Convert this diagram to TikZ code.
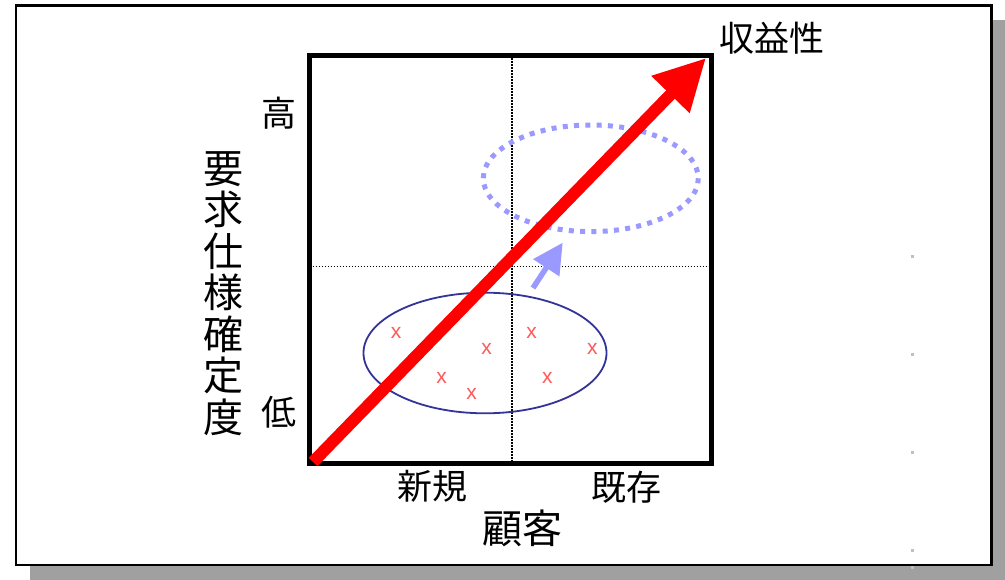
\documentclass[tikz,border=0pt]{standalone}
\usepackage{fontspec}
\setmainfont{Noto Sans CJK JP}
\newfontfamily\xfont{Liberation Sans}
\usetikzlibrary{arrows.meta}
\definecolor{shadowgray}{HTML}{A0A0A0}
\definecolor{navyline}{HTML}{333399}
\definecolor{lightblue}{HTML}{9999FF}
\definecolor{markred}{HTML}{FF5A5A}
\definecolor{dotgray}{HTML}{C0C0C0}
\begin{document}
\begin{tikzpicture}[x=1pt,y=-1pt,
  lbl/.style={inner sep=0pt, font=\fontsize{35}{35}\selectfont},
  xmark/.style={inner sep=0pt, text=markred, font=\xfont\fontsize{21}{21}\selectfont},
  gdot/.style={fill=dotgray, minimum size=3pt, inner sep=0pt},
  quad/.style={dash pattern=on 1.2pt off 1.8pt, line width=1.2pt}]
\useasboundingbox (0,0) rectangle (1005,580);
\fill[shadowgray] (30,20) rectangle (1005,580);
\draw[line width=2.7pt, fill=white] (16,5.5) rectangle (991.5,565);
% small gray marks at right
\node[gdot] (g1) at (912.3,256.3) {};
\node[gdot] (g2) at (912.3,354.3) {};
\node[gdot] (g3) at (912.3,452.3) {};
\node[gdot] (g4) at (912.3,550.3) {};
\node[gdot] (g5) at (912.3,567.5) {};
% quadrant lines
\coordinate (vt) at (512,55.5);
\coordinate (vb) at (512,463.5);
\coordinate (hl) at (309.5,266.5);
\coordinate (hr) at (711,266.5);
\draw[quad] (vt) -- (vb);
\draw[quad] (hl) -- (hr);
% main box
\node[draw, line width=5pt, minimum width=401.5pt, minimum height=408pt, inner sep=0pt] (box) at (510.25,259.5) {};
% ellipses
\draw[navyline, line width=1.8pt] (485,353) ellipse [x radius=121.5, y radius=60.3];
\draw[lightblue, line width=5pt, dash pattern=on 5pt off 6.3pt] (590.8,178.3) ellipse [x radius=107.5, y radius=53.3];
% x marks
\node[xmark] (m1) at (396,333) {x};
\node[xmark] (m2) at (486.7,348.5) {x};
\node[xmark] (m3) at (531.7,333) {x};
\node[xmark] (m4) at (592.3,348.5) {x};
\node[xmark] (m5) at (441.7,378) {x};
\node[xmark] (m6) at (547.3,378) {x};
\node[xmark] (m7) at (471.7,394) {x};
% blue arrow
\coordinate (bs) at (533,288);
\coordinate (bt) at (562.7,242.7);
\draw[lightblue, line width=5.5pt, -{Triangle[length=30pt,width=30pt]}] (bs) -- (bt);
% red arrow
\coordinate (rs) at (313,462);
\coordinate (rt) at (706,58);
\draw[red, line width=12pt, -{Triangle[length=51pt,width=50pt]}] (rs) -- (rt);
% labels
\node[lbl] (high) at (278.5,113) {高};
\node[lbl] (low) at (278.5,412) {低};
\node[inner sep=0pt, align=center, font=\fontsize{40}{41.5}\selectfont] (ylab) at (223.5,293.5) {要\\求\\仕\\様\\確\\定\\度};
\node[lbl] (new) at (432.5,486.7) {新規};
\node[lbl] (old) at (626,487) {既存};
\node[inner sep=0pt, font=\fontsize{40}{40}\selectfont] (cust) at (522,528) {顧客};
\node[lbl] (profit) at (771.5,38.5) {収益性};
\end{tikzpicture}
\end{document}
